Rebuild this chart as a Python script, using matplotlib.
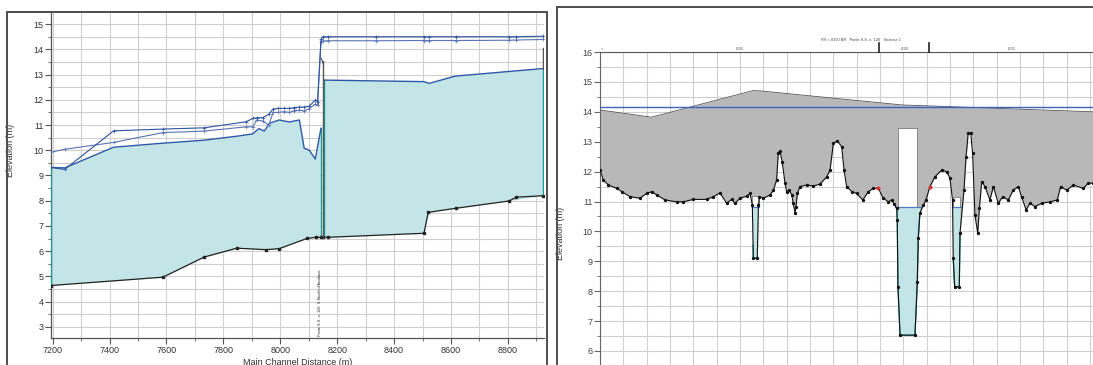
import matplotlib
matplotlib.use('Agg')
import matplotlib.pyplot as plt
import numpy as np
from matplotlib.patches import Rectangle
from matplotlib.ticker import MultipleLocator

plt.rcParams['font.family'] = ['Liberation Sans', 'DejaVu Sans']

# ---------------- Left panel data (profile) ----------------
ws_x_a = [7193, 7242, 7414, 7587, 7733, 7856, 7903, 7925, 7944, 7962, 7996, 8032, 8067, 8084, 8102, 8123, 8143]
ws_y_a = [9.32, 9.30, 10.12, 10.28, 10.40, 10.57, 10.65, 10.86, 10.76, 11.07, 11.20, 11.12, 11.20, 10.08, 10.00, 9.65, 10.87]
ws_x_b = [8155, 8505, 8523, 8616, 8925]
ws_y_b = [12.78, 12.72, 12.65, 12.94, 13.24]

bed_x = [7193, 7587, 7733, 7847, 7950, 7996, 8095, 8125, 8143, 8150, 8166, 8505, 8520, 8616, 8804, 8830, 8925]
bed_y = [4.64, 4.97, 5.77, 6.12, 6.06, 6.10, 6.51, 6.55, 6.55, 6.55, 6.55, 6.71, 7.54, 7.70, 7.99, 8.14, 8.20]

l1_x = [7193, 7242, 7414, 7587, 7733, 7880, 7903, 7917, 7938, 7959, 7975, 7991, 8014, 8032, 8049, 8067, 8084, 8102, 8123, 8131, 8143, 8149, 8166, 8336, 8505, 8523, 8616, 8804, 8829, 8925]
l1_y = [9.92, 10.04, 10.31, 10.70, 10.76, 10.93, 10.93, 11.20, 11.16, 11.00, 11.50, 11.50, 11.53, 11.50, 11.57, 11.59, 11.56, 11.65, 11.83, 11.78, 14.30, 14.33, 14.34, 14.34, 14.35, 14.35, 14.35, 14.36, 14.37, 14.39]
l2_x = l1_x
l2_y = [9.32, 9.24, 10.77, 10.84, 10.89, 11.13, 11.26, 11.29, 11.29, 11.42, 11.63, 11.66, 11.66, 11.66, 11.69, 11.71, 11.71, 11.75, 11.99, 11.93, 14.39, 14.50, 14.50, 14.50, 14.50, 14.50, 14.50, 14.50, 14.50, 14.52]

bridge_x = 8150
bridge_top = 13.55
end_top = 14.06
left_xticks = [7200, 7400, 7600, 7800, 8000, 8200, 8400, 8600, 8800]
left_yticks = [3, 4, 5, 6, 7, 8, 9, 10, 11, 12, 13, 14, 15]
bridge_label = "Ponte S.S. n. 126  S.Nicolò d'Arcidano"

# ---------------- Right panel data (cross section) ----------------
gnd_x = [0, 1.4, 3.6, 7.2, 9.3, 12.9, 17.1, 20.0, 22.2, 24.3, 27.9, 32.9, 35.7, 40.0, 45.7, 48.6,
         51.4, 54.3, 56.4, 57.9, 60.0, 62.9, 64.3, 65.3, 65.7, 67.4, 67.9, 68.3, 70.0, 72.9, 74.3,
         75.7, 76.4, 77.1, 78.1, 79.3, 80.0, 81.1, 82.2, 82.8, 83.6, 84.0, 84.6, 85.7, 88.6, 91.4,
         94.3, 97.2, 98.6, 100.0, 101.7, 103.6, 104.6, 105.7, 107.9, 110.0, 112.6, 115.0, 117.1,
         119.3, 121.4, 123.6, 125.0, 126.0, 127.2, 127.4, 127.7, 128.6, 135.0, 136.0, 136.4, 137.1,
         138.6, 139.7, 141.4, 143.6, 146.4, 148.6, 150.0, 151.1, 151.4, 152.0, 154.0, 154.3, 156.0,
         156.9, 157.8, 158.9, 159.7, 160.7, 161.9, 162.6, 163.6, 165.0, 167.1, 168.6, 170.7, 172.6,
         175.0, 177.1, 179.3, 180.7, 182.6, 184.3, 186.4, 189.3, 192.9, 196.0, 197.4, 200.0, 202.9,
         207.1, 209.3, 211.3]
gnd_y = [12.05, 11.72, 11.55, 11.44, 11.33, 11.16, 11.11, 11.27, 11.33, 11.22, 11.05, 10.99, 10.99,
         11.07, 11.07, 11.16, 11.29, 10.94, 11.07, 10.94, 11.11, 11.18, 11.27, 10.88, 9.10, 9.10,
         10.88, 11.16, 11.11, 11.22, 11.38, 11.72, 12.61, 12.70, 12.33, 11.61, 11.33, 11.38, 11.22,
         10.94, 10.61, 10.83, 11.27, 11.50, 11.55, 11.52, 11.58, 11.83, 12.05, 12.95, 13.03, 12.83,
         12.05, 11.50, 11.33, 11.27, 11.05, 11.33, 11.44, 11.44, 11.11, 10.99, 11.05, 10.92, 10.77,
         10.38, 8.15, 6.53, 6.53, 8.32, 9.77, 10.61, 10.88, 11.05, 11.50, 11.83, 12.05, 12.00, 11.77,
         11.05, 9.10, 8.15, 8.15, 9.94, 11.38, 12.50, 13.28, 13.28, 12.61, 10.55, 9.94, 10.77, 11.66,
         11.50, 11.05, 11.50, 10.94, 11.16, 11.05, 11.38, 11.50, 11.16, 10.72, 10.94, 10.83, 10.94,
         10.99, 11.05, 11.50, 11.38, 11.55, 11.44, 11.61, 11.61]
deck_x = [0, 22.1, 65.6, 68.6, 94.3, 129.3, 211.3]
deck_y = [14.06, 13.82, 14.71, 14.70, 14.50, 14.23, 14.00]
ws_xs = 14.16
ws_chan = 10.80
openings = [(65.3, 68.3, 11.20), (127.9, 136.0, 13.45), (151.1, 154.3, 11.15)]
water_windows = [(64.0, 69.5), (126.0, 137.5), (150.5, 155.5)]
bank_sta = [119.6, 141.0]
bank_pts_x = [119.3, 141.4]
bank_pts_y = [11.44, 11.50]
n_labels = ['.035', '.030', '.035']
n_pos = [60.0, 130.7, 176.6]
right_yticks = [6, 7, 8, 9, 10, 11, 12, 13, 14, 15, 16]
xs_title = "RS = 8150 BR   Ponte S.S. n. 126   Sezione 1"

W, H = 1093, 365
fig = plt.figure(figsize=(W / 100, H / 100), dpi=100)

def fx(p):
    return p / W

def fy(p):
    return (H - p) / H

frame_c = '#4d4d4d'
fig.patches.append(Rectangle((fx(7), -0.05), fx(540), fy(12) + 0.05, transform=fig.transFigure,
                             fill=False, edgecolor=frame_c, lw=1.4, zorder=20))
fig.patches.append(Rectangle((fx(557), -0.05), fx(560), fy(7) + 0.05, transform=fig.transFigure,
                             fill=False, edgecolor=frame_c, lw=1.4, zorder=20))

grid_c = '#cfcfcf'
tick_c = '#333333'

# ---------------- Left axes ----------------
ax1 = fig.add_axes([fx(51), fy(338), fx(544 - 51), (338 - 13) / H])
ax1.set_xlim(7194, 8927)
ax1.set_ylim(2.56, 15.44)
ax1.set_xticks(left_xticks)
ax1.set_yticks(left_yticks)
ax1.xaxis.set_minor_locator(MultipleLocator(100))
ax1.yaxis.set_minor_locator(MultipleLocator(0.5))
ax1.grid(True, which='both', color=grid_c, lw=0.8, zorder=0)
ax1.set_axisbelow(True)
ax1.tick_params(which='major', length=4, width=0.8, color='#555', labelsize=6.5, labelcolor=tick_c, pad=1.5)
ax1.tick_params(which='minor', length=2.5, width=0.6, color='#555')
for s in ['top', 'right']:
    ax1.spines[s].set_visible(False)
for s in ['left', 'bottom']:
    ax1.spines[s].set_color('#555')
    ax1.spines[s].set_linewidth(0.9)

fill_c = '#c4e5e7'
teal = '#1e9a9a'
ax1.fill_between(ws_x_a, np.interp(ws_x_a, bed_x, bed_y), ws_y_a, color=fill_c, lw=0, zorder=2)
ax1.fill_between(ws_x_b, np.interp(ws_x_b, bed_x, bed_y), ws_y_b, color=fill_c, lw=0, zorder=2)
for xv, top in [(ws_x_a[0], ws_y_a[0]), (ws_x_a[-1], ws_y_a[-1]), (ws_x_b[0], ws_y_b[0]), (ws_x_b[-1], ws_y_b[-1])]:
    ax1.plot([xv, xv], [np.interp(xv, bed_x, bed_y), top], color=teal, lw=1.0, zorder=3)
ax1.plot(ws_x_a, ws_y_a, color='#2b58a8', lw=1.0, zorder=4)
ax1.plot(ws_x_b, ws_y_b, color='#2b58a8', lw=1.0, zorder=4)
ax1.plot(bed_x, bed_y, color='#222222', lw=0.9, marker='s', ms=1.8, zorder=5)
# bridge
ax1.plot([bridge_x, bridge_x], [np.interp(bridge_x, bed_x, bed_y), bridge_top], color='#555555', lw=1.0, zorder=5)
ax1.plot([bridge_x - 6, bridge_x], [bridge_top + 0.1, bridge_top - 0.1], color='#555555', lw=0.8, zorder=5)
ax1.plot([ws_x_b[-1], ws_x_b[-1]], [ws_y_b[-1], end_top], color='#555555', lw=1.0, zorder=5)
# upper profile lines
ax1.plot(l1_x, l1_y, color='#5a74b4', lw=0.8, marker='+', ms=2.5, mew=0.5, zorder=6)
ax1.plot(l2_x, l2_y, color='#2e54a2', lw=0.8, marker='+', ms=2.5, mew=0.5, zorder=6)
ax1.text(8141, 2.65, bridge_label, rotation=90, fontsize=2.8, ha='center', va='bottom', color='#222', zorder=7)

ax1.set_ylabel('Elevation (m)', fontsize=6.5, color=tick_c)
ax1.yaxis.set_label_coords(-0.073, 0.578)
ax1.set_xlabel('Main Channel Distance (m)', fontsize=6.5, color=tick_c)
ax1.xaxis.set_label_coords(0.5, -0.062)

# ---------------- Right axes ----------------
ax2 = fig.add_axes([fx(600), 0, fx(493), (365 - 52) / H])
ax2.set_xlim(0, 211.3)
ax2.set_ylim(16 - 313 / 29.9, 16)
ax2.set_yticks(right_yticks)
ax2.yaxis.set_minor_locator(MultipleLocator(0.5))
ax2.xaxis.set_major_locator(MultipleLocator(10))
ax2.xaxis.tick_top()
ax2.tick_params(axis='x', which='both', length=0, labeltop=False, labelbottom=False)
ax2.tick_params(axis='y', which='major', length=4, width=0.8, color='#666', labelsize=6.5, labelcolor='#444', pad=1.5)
ax2.tick_params(axis='y', which='minor', length=2.5, width=0.6, color='#666')
ax2.grid(True, which='major', axis='x', color=grid_c, lw=0.8, zorder=0)
ax2.grid(True, which='both', axis='y', color=grid_c, lw=0.8, zorder=0)
ax2.set_axisbelow(True)
for s in ['bottom', 'right']:
    ax2.spines[s].set_visible(False)
ax2.spines['top'].set_color('#555')
ax2.spines['left'].set_color('#666')

xs_all = np.union1d(np.union1d(gnd_x, deck_x), [o[0] for o in openings] + [o[1] for o in openings])
g_all = np.interp(xs_all, gnd_x, gnd_y)
d_all = np.interp(xs_all, deck_x, deck_y)
ax2.fill_between(xs_all, g_all, d_all, color='#b8b8b8', lw=0, zorder=2)
ax2.plot(deck_x, deck_y, color='#555555', lw=0.6, zorder=3)
for (a, b) in water_windows:
    m = (xs_all >= a) & (xs_all <= b)
    xw = xs_all[m]
    gw = g_all[m]
    ax2.fill_between(xw, gw, ws_chan, where=gw < ws_chan, interpolate=True, color=fill_c, lw=0, zorder=3)
for (a, b, top) in openings:
    ax2.add_patch(Rectangle((a, ws_chan), b - a, top - ws_chan, facecolor='white', edgecolor='#888888', lw=0.7, zorder=4))
for (a, b) in water_windows:
    m = (xs_all >= a) & (xs_all <= b)
    gw = g_all[m]
    xw = xs_all[m][gw < ws_chan]
    if len(xw):
        ax2.plot([xw[0] - 0.6, xw[-1] + 0.6], [ws_chan, ws_chan], color='#4f79c0', lw=0.9, zorder=5)
        ax2.plot(xs_all[m], np.where(gw < ws_chan, gw, np.nan), color=teal, lw=0.9, zorder=5)
ax2.plot(gnd_x, gnd_y, color='#111111', lw=0.8, marker='o', ms=1.4, zorder=6)
ax2.plot(bank_pts_x, bank_pts_y, ls='none', marker='o', ms=1.8, color='#e03030', zorder=7)
ax2.axhline(ws_xs, color='#3f63b8', lw=1.0, zorder=6)

# top annotations
for b in bank_sta:
    ax2.plot([b, b], [16, 16.3], color='#222', lw=1.2, clip_on=False, zorder=8)
for lab, p in zip(n_labels, n_pos):
    ax2.text(p, 16.05, lab, fontsize=3, ha='center', va='bottom', color='#444')
ax2.text(0.5, 16.05, '<', fontsize=3, ha='left', va='bottom', color='#444')
ax2.text(112, 16.33, xs_title, fontsize=2.8, ha='center', va='bottom', color='#444')

ax2.set_ylabel('Elevation (m)', fontsize=6.5, color=tick_c)
ax2.yaxis.set_label_coords(-0.071, 0.42)

fig.savefig('out.png', dpi=100, facecolor='white')
